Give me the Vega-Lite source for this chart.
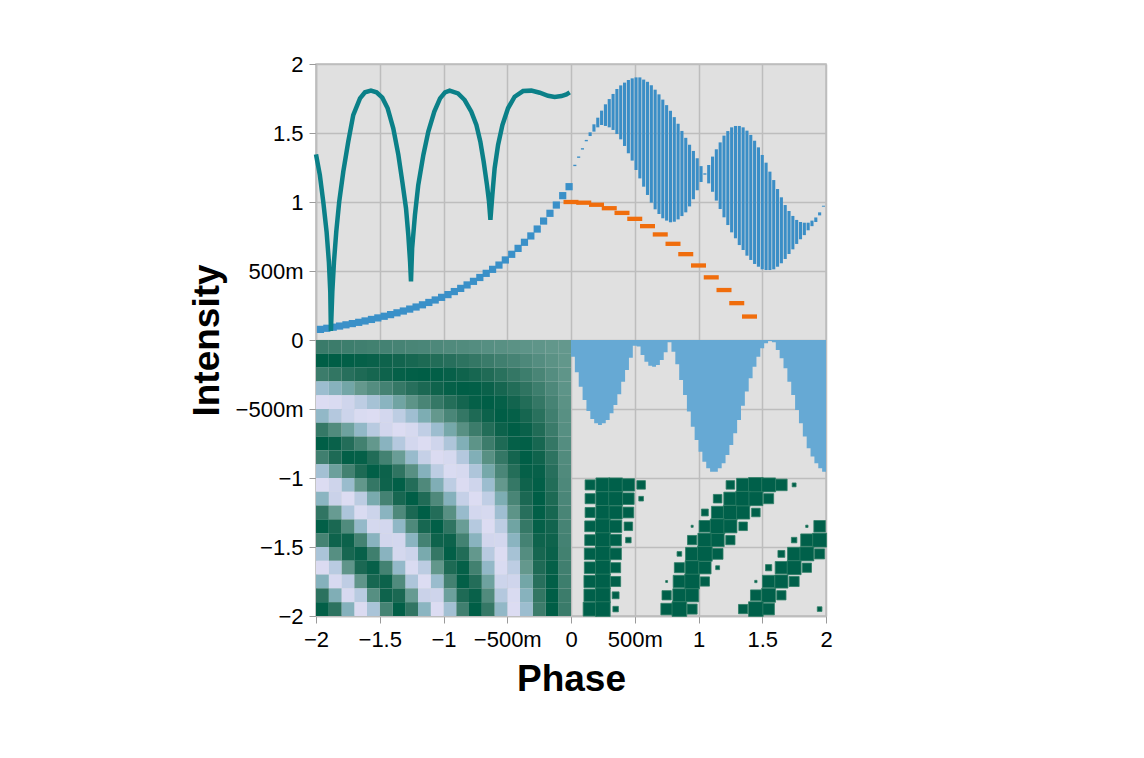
{
  "$schema": "https://vega.github.io/schema/vega-lite/v6.json",
  "width": 510,
  "height": 552,
  "autosize": {"type": "none"},
  "padding": {"left": 316, "top": 64, "right": 318, "bottom": 142},
  "background": "white",
  "datasets": {
    "heat": [
      {"x":-0.05,"y":-0.05,"v":0.01},{"x":-0.05,"y":-0.15,"v":0.04},{"x":-0.05,"y":-0.25,"v":0.07},{"x":-0.05,"y":-0.35,"v":0.09},{"x":-0.05,"y":-0.45,"v":0.12},{"x":-0.05,"y":-0.55,"v":0.15},{"x":-0.05,"y":-0.65,"v":0.17},{"x":-0.05,"y":-0.75,"v":0.2},{"x":-0.05,"y":-0.85,"v":0.23},{"x":-0.05,"y":-0.95,"v":0.25},{"x":-0.05,"y":-1.05,"v":0.28},{"x":-0.05,"y":-1.15,"v":0.31},{"x":-0.05,"y":-1.25,"v":0.33},{"x":-0.05,"y":-1.35,"v":0.36},{"x":-0.05,"y":-1.45,"v":0.38},{"x":-0.05,"y":-1.55,"v":0.41},{"x":-0.05,"y":-1.65,"v":0.43},{"x":-0.05,"y":-1.75,"v":0.46},{"x":-0.05,"y":-1.85,"v":0.48},{"x":-0.05,"y":-1.95,"v":0.5},
      {"x":-0.15,"y":-0.05,"v":0.04},{"x":-0.15,"y":-0.15,"v":0.12},{"x":-0.15,"y":-0.25,"v":0.2},{"x":-0.15,"y":-0.35,"v":0.28},{"x":-0.15,"y":-0.45,"v":0.36},{"x":-0.15,"y":-0.55,"v":0.43},{"x":-0.15,"y":-0.65,"v":0.5},{"x":-0.15,"y":-0.75,"v":0.57},{"x":-0.15,"y":-0.85,"v":0.64},{"x":-0.15,"y":-0.95,"v":0.7},{"x":-0.15,"y":-1.05,"v":0.75},{"x":-0.15,"y":-1.15,"v":0.8},{"x":-0.15,"y":-1.25,"v":0.85},{"x":-0.15,"y":-1.35,"v":0.89},{"x":-0.15,"y":-1.45,"v":0.92},{"x":-0.15,"y":-1.55,"v":0.95},{"x":-0.15,"y":-1.65,"v":0.97},{"x":-0.15,"y":-1.75,"v":0.99},{"x":-0.15,"y":-1.85,"v":1},{"x":-0.15,"y":-1.95,"v":1},
      {"x":-0.25,"y":-0.05,"v":0.07},{"x":-0.25,"y":-0.15,"v":0.2},{"x":-0.25,"y":-0.25,"v":0.33},{"x":-0.25,"y":-0.35,"v":0.46},{"x":-0.25,"y":-0.45,"v":0.57},{"x":-0.25,"y":-0.55,"v":0.68},{"x":-0.25,"y":-0.65,"v":0.77},{"x":-0.25,"y":-0.75,"v":0.85},{"x":-0.25,"y":-0.85,"v":0.91},{"x":-0.25,"y":-0.95,"v":0.96},{"x":-0.25,"y":-1.05,"v":0.99},{"x":-0.25,"y":-1.15,"v":1},{"x":-0.25,"y":-1.25,"v":0.99},{"x":-0.25,"y":-1.35,"v":0.97},{"x":-0.25,"y":-1.45,"v":0.92},{"x":-0.25,"y":-1.55,"v":0.86},{"x":-0.25,"y":-1.65,"v":0.79},{"x":-0.25,"y":-1.75,"v":0.7},{"x":-0.25,"y":-1.85,"v":0.59},{"x":-0.25,"y":-1.95,"v":0.48},
      {"x":-0.35,"y":-0.05,"v":0.09},{"x":-0.35,"y":-0.15,"v":0.28},{"x":-0.35,"y":-0.25,"v":0.46},{"x":-0.35,"y":-0.35,"v":0.62},{"x":-0.35,"y":-0.45,"v":0.75},{"x":-0.35,"y":-0.55,"v":0.86},{"x":-0.35,"y":-0.65,"v":0.94},{"x":-0.35,"y":-0.75,"v":0.99},{"x":-0.35,"y":-0.85,"v":1},{"x":-0.35,"y":-0.95,"v":0.97},{"x":-0.35,"y":-1.05,"v":0.91},{"x":-0.35,"y":-1.15,"v":0.82},{"x":-0.35,"y":-1.25,"v":0.7},{"x":-0.35,"y":-1.35,"v":0.55},{"x":-0.35,"y":-1.45,"v":0.38},{"x":-0.35,"y":-1.55,"v":0.2},{"x":-0.35,"y":-1.65,"v":0.01},{"x":-0.35,"y":-1.75,"v":-0.18},{"x":-0.35,"y":-1.85,"v":-0.36},{"x":-0.35,"y":-1.95,"v":-0.53},
      {"x":-0.45,"y":-0.05,"v":0.12},{"x":-0.45,"y":-0.15,"v":0.36},{"x":-0.45,"y":-0.25,"v":0.57},{"x":-0.45,"y":-0.35,"v":0.75},{"x":-0.45,"y":-0.45,"v":0.89},{"x":-0.45,"y":-0.55,"v":0.97},{"x":-0.45,"y":-0.65,"v":1},{"x":-0.45,"y":-0.75,"v":0.97},{"x":-0.45,"y":-0.85,"v":0.88},{"x":-0.45,"y":-0.95,"v":0.73},{"x":-0.45,"y":-1.05,"v":0.55},{"x":-0.45,"y":-1.15,"v":0.33},{"x":-0.45,"y":-1.25,"v":0.09},{"x":-0.45,"y":-1.35,"v":-0.15},{"x":-0.45,"y":-1.45,"v":-0.39},{"x":-0.45,"y":-1.55,"v":-0.6},{"x":-0.45,"y":-1.65,"v":-0.77},{"x":-0.45,"y":-1.75,"v":-0.9},{"x":-0.45,"y":-1.85,"v":-0.98},{"x":-0.45,"y":-1.95,"v":-1},
      {"x":-0.55,"y":-0.05,"v":0.15},{"x":-0.55,"y":-0.15,"v":0.43},{"x":-0.55,"y":-0.25,"v":0.68},{"x":-0.55,"y":-0.35,"v":0.86},{"x":-0.55,"y":-0.45,"v":0.97},{"x":-0.55,"y":-0.55,"v":1},{"x":-0.55,"y":-0.65,"v":0.93},{"x":-0.55,"y":-0.75,"v":0.79},{"x":-0.55,"y":-0.85,"v":0.57},{"x":-0.55,"y":-0.95,"v":0.31},{"x":-0.55,"y":-1.05,"v":0.01},{"x":-0.55,"y":-1.15,"v":-0.28},{"x":-0.55,"y":-1.25,"v":-0.55},{"x":-0.55,"y":-1.35,"v":-0.77},{"x":-0.55,"y":-1.45,"v":-0.93},{"x":-0.55,"y":-1.55,"v":-1},{"x":-0.55,"y":-1.65,"v":-0.98},{"x":-0.55,"y":-1.75,"v":-0.88},{"x":-0.55,"y":-1.85,"v":-0.7},{"x":-0.55,"y":-1.95,"v":-0.45},
      {"x":-0.65,"y":-0.05,"v":0.17},{"x":-0.65,"y":-0.15,"v":0.5},{"x":-0.65,"y":-0.25,"v":0.77},{"x":-0.65,"y":-0.35,"v":0.94},{"x":-0.65,"y":-0.45,"v":1},{"x":-0.65,"y":-0.55,"v":0.93},{"x":-0.65,"y":-0.65,"v":0.75},{"x":-0.65,"y":-0.75,"v":0.48},{"x":-0.65,"y":-0.85,"v":0.15},{"x":-0.65,"y":-0.95,"v":-0.21},{"x":-0.65,"y":-1.05,"v":-0.53},{"x":-0.65,"y":-1.15,"v":-0.79},{"x":-0.65,"y":-1.25,"v":-0.95},{"x":-0.65,"y":-1.35,"v":-1},{"x":-0.65,"y":-1.45,"v":-0.92},{"x":-0.65,"y":-1.55,"v":-0.73},{"x":-0.65,"y":-1.65,"v":-0.45},{"x":-0.65,"y":-1.75,"v":-0.12},{"x":-0.65,"y":-1.85,"v":0.23},{"x":-0.65,"y":-1.95,"v":0.55},
      {"x":-0.75,"y":-0.05,"v":0.2},{"x":-0.75,"y":-0.15,"v":0.57},{"x":-0.75,"y":-0.25,"v":0.85},{"x":-0.75,"y":-0.35,"v":0.99},{"x":-0.75,"y":-0.45,"v":0.97},{"x":-0.75,"y":-0.55,"v":0.79},{"x":-0.75,"y":-0.65,"v":0.48},{"x":-0.75,"y":-0.75,"v":0.09},{"x":-0.75,"y":-0.85,"v":-0.31},{"x":-0.75,"y":-0.95,"v":-0.66},{"x":-0.75,"y":-1.05,"v":-0.9},{"x":-0.75,"y":-1.15,"v":-1},{"x":-0.75,"y":-1.25,"v":-0.93},{"x":-0.75,"y":-1.35,"v":-0.71},{"x":-0.75,"y":-1.45,"v":-0.38},{"x":-0.75,"y":-1.55,"v":0.02},{"x":-0.75,"y":-1.65,"v":0.41},{"x":-0.75,"y":-1.75,"v":0.74},{"x":-0.75,"y":-1.85,"v":0.95},{"x":-0.75,"y":-1.95,"v":1},
      {"x":-0.85,"y":-0.05,"v":0.23},{"x":-0.85,"y":-0.15,"v":0.64},{"x":-0.85,"y":-0.25,"v":0.91},{"x":-0.85,"y":-0.35,"v":1},{"x":-0.85,"y":-0.45,"v":0.88},{"x":-0.85,"y":-0.55,"v":0.57},{"x":-0.85,"y":-0.65,"v":0.15},{"x":-0.85,"y":-0.75,"v":-0.31},{"x":-0.85,"y":-0.85,"v":-0.7},{"x":-0.85,"y":-0.95,"v":-0.95},{"x":-0.85,"y":-1.05,"v":-0.99},{"x":-0.85,"y":-1.15,"v":-0.83},{"x":-0.85,"y":-1.25,"v":-0.5},{"x":-0.85,"y":-1.35,"v":-0.06},{"x":-0.85,"y":-1.45,"v":0.39},{"x":-0.85,"y":-1.55,"v":0.76},{"x":-0.85,"y":-1.65,"v":0.97},{"x":-0.85,"y":-1.75,"v":0.98},{"x":-0.85,"y":-1.85,"v":0.79},{"x":-0.85,"y":-1.95,"v":0.43},
      {"x":-0.95,"y":-0.05,"v":0.25},{"x":-0.95,"y":-0.15,"v":0.7},{"x":-0.95,"y":-0.25,"v":0.96},{"x":-0.95,"y":-0.35,"v":0.97},{"x":-0.95,"y":-0.45,"v":0.73},{"x":-0.95,"y":-0.55,"v":0.31},{"x":-0.95,"y":-0.65,"v":-0.21},{"x":-0.95,"y":-0.75,"v":-0.66},{"x":-0.95,"y":-0.85,"v":-0.95},{"x":-0.95,"y":-0.95,"v":-0.98},{"x":-0.95,"y":-1.05,"v":-0.77},{"x":-0.95,"y":-1.15,"v":-0.35},{"x":-0.95,"y":-1.25,"v":0.15},{"x":-0.95,"y":-1.35,"v":0.62},{"x":-0.95,"y":-1.45,"v":0.93},{"x":-0.95,"y":-1.55,"v":0.99},{"x":-0.95,"y":-1.65,"v":0.8},{"x":-0.95,"y":-1.75,"v":0.4},{"x":-0.95,"y":-1.85,"v":-0.1},{"x":-0.95,"y":-1.95,"v":-0.58},
      {"x":-1.05,"y":-0.05,"v":0.28},{"x":-1.05,"y":-0.15,"v":0.75},{"x":-1.05,"y":-0.25,"v":0.99},{"x":-1.05,"y":-0.35,"v":0.91},{"x":-1.05,"y":-0.45,"v":0.55},{"x":-1.05,"y":-0.55,"v":0.01},{"x":-1.05,"y":-0.65,"v":-0.53},{"x":-1.05,"y":-0.75,"v":-0.9},{"x":-1.05,"y":-0.85,"v":-0.99},{"x":-1.05,"y":-0.95,"v":-0.77},{"x":-1.05,"y":-1.05,"v":-0.3},{"x":-1.05,"y":-1.15,"v":0.26},{"x":-1.05,"y":-1.25,"v":0.74},{"x":-1.05,"y":-1.35,"v":0.99},{"x":-1.05,"y":-1.45,"v":0.92},{"x":-1.05,"y":-1.55,"v":0.57},{"x":-1.05,"y":-1.65,"v":0.04},{"x":-1.05,"y":-1.75,"v":-0.51},{"x":-1.05,"y":-1.85,"v":-0.89},{"x":-1.05,"y":-1.95,"v":-1},
      {"x":-1.15,"y":-0.05,"v":0.31},{"x":-1.15,"y":-0.15,"v":0.8},{"x":-1.15,"y":-0.25,"v":1},{"x":-1.15,"y":-0.35,"v":0.82},{"x":-1.15,"y":-0.45,"v":0.33},{"x":-1.15,"y":-0.55,"v":-0.28},{"x":-1.15,"y":-0.65,"v":-0.79},{"x":-1.15,"y":-0.75,"v":-1},{"x":-1.15,"y":-0.85,"v":-0.83},{"x":-1.15,"y":-0.95,"v":-0.35},{"x":-1.15,"y":-1.05,"v":0.26},{"x":-1.15,"y":-1.15,"v":0.77},{"x":-1.15,"y":-1.25,"v":1},{"x":-1.15,"y":-1.35,"v":0.85},{"x":-1.15,"y":-1.45,"v":0.38},{"x":-1.15,"y":-1.55,"v":-0.24},{"x":-1.15,"y":-1.65,"v":-0.76},{"x":-1.15,"y":-1.75,"v":-1},{"x":-1.15,"y":-1.85,"v":-0.86},{"x":-1.15,"y":-1.95,"v":-0.4},
      {"x":-1.25,"y":-0.05,"v":0.33},{"x":-1.25,"y":-0.15,"v":0.85},{"x":-1.25,"y":-0.25,"v":0.99},{"x":-1.25,"y":-0.35,"v":0.7},{"x":-1.25,"y":-0.45,"v":0.09},{"x":-1.25,"y":-0.55,"v":-0.55},{"x":-1.25,"y":-0.65,"v":-0.95},{"x":-1.25,"y":-0.75,"v":-0.93},{"x":-1.25,"y":-0.85,"v":-0.5},{"x":-1.25,"y":-0.95,"v":0.15},{"x":-1.25,"y":-1.05,"v":0.74},{"x":-1.25,"y":-1.15,"v":1},{"x":-1.25,"y":-1.25,"v":0.82},{"x":-1.25,"y":-1.35,"v":0.27},{"x":-1.25,"y":-1.45,"v":-0.39},{"x":-1.25,"y":-1.55,"v":-0.88},{"x":-1.25,"y":-1.65,"v":-0.98},{"x":-1.25,"y":-1.75,"v":-0.65},{"x":-1.25,"y":-1.85,"v":-0.03},{"x":-1.25,"y":-1.95,"v":0.6},
      {"x":-1.35,"y":-0.05,"v":0.36},{"x":-1.35,"y":-0.15,"v":0.89},{"x":-1.35,"y":-0.25,"v":0.97},{"x":-1.35,"y":-0.35,"v":0.55},{"x":-1.35,"y":-0.45,"v":-0.15},{"x":-1.35,"y":-0.55,"v":-0.77},{"x":-1.35,"y":-0.65,"v":-1},{"x":-1.35,"y":-0.75,"v":-0.71},{"x":-1.35,"y":-0.85,"v":-0.06},{"x":-1.35,"y":-0.95,"v":0.62},{"x":-1.35,"y":-1.05,"v":0.99},{"x":-1.35,"y":-1.15,"v":0.85},{"x":-1.35,"y":-1.25,"v":0.27},{"x":-1.35,"y":-1.35,"v":-0.44},{"x":-1.35,"y":-1.45,"v":-0.93},{"x":-1.35,"y":-1.55,"v":-0.94},{"x":-1.35,"y":-1.65,"v":-0.47},{"x":-1.35,"y":-1.75,"v":0.24},{"x":-1.35,"y":-1.85,"v":0.83},{"x":-1.35,"y":-1.95,"v":0.99},
      {"x":-1.45,"y":-0.05,"v":0.38},{"x":-1.45,"y":-0.15,"v":0.92},{"x":-1.45,"y":-0.25,"v":0.92},{"x":-1.45,"y":-0.35,"v":0.38},{"x":-1.45,"y":-0.45,"v":-0.39},{"x":-1.45,"y":-0.55,"v":-0.93},{"x":-1.45,"y":-0.65,"v":-0.92},{"x":-1.45,"y":-0.75,"v":-0.38},{"x":-1.45,"y":-0.85,"v":0.39},{"x":-1.45,"y":-0.95,"v":0.93},{"x":-1.45,"y":-1.05,"v":0.92},{"x":-1.45,"y":-1.15,"v":0.38},{"x":-1.45,"y":-1.25,"v":-0.39},{"x":-1.45,"y":-1.35,"v":-0.93},{"x":-1.45,"y":-1.45,"v":-0.92},{"x":-1.45,"y":-1.55,"v":-0.38},{"x":-1.45,"y":-1.65,"v":0.39},{"x":-1.45,"y":-1.75,"v":0.93},{"x":-1.45,"y":-1.85,"v":0.92},{"x":-1.45,"y":-1.95,"v":0.37},
      {"x":-1.55,"y":-0.05,"v":0.41},{"x":-1.55,"y":-0.15,"v":0.95},{"x":-1.55,"y":-0.25,"v":0.86},{"x":-1.55,"y":-0.35,"v":0.2},{"x":-1.55,"y":-0.45,"v":-0.6},{"x":-1.55,"y":-0.55,"v":-1},{"x":-1.55,"y":-0.65,"v":-0.73},{"x":-1.55,"y":-0.75,"v":0.02},{"x":-1.55,"y":-0.85,"v":0.76},{"x":-1.55,"y":-0.95,"v":0.99},{"x":-1.55,"y":-1.05,"v":0.57},{"x":-1.55,"y":-1.15,"v":-0.24},{"x":-1.55,"y":-1.25,"v":-0.88},{"x":-1.55,"y":-1.35,"v":-0.94},{"x":-1.55,"y":-1.45,"v":-0.38},{"x":-1.55,"y":-1.55,"v":0.44},{"x":-1.55,"y":-1.65,"v":0.96},{"x":-1.55,"y":-1.75,"v":0.85},{"x":-1.55,"y":-1.85,"v":0.17},{"x":-1.55,"y":-1.95,"v":-0.63},
      {"x":-1.65,"y":-0.05,"v":0.43},{"x":-1.65,"y":-0.15,"v":0.97},{"x":-1.65,"y":-0.25,"v":0.79},{"x":-1.65,"y":-0.35,"v":0.01},{"x":-1.65,"y":-0.45,"v":-0.77},{"x":-1.65,"y":-0.55,"v":-0.98},{"x":-1.65,"y":-0.65,"v":-0.45},{"x":-1.65,"y":-0.75,"v":0.41},{"x":-1.65,"y":-0.85,"v":0.97},{"x":-1.65,"y":-0.95,"v":0.8},{"x":-1.65,"y":-1.05,"v":0.04},{"x":-1.65,"y":-1.15,"v":-0.76},{"x":-1.65,"y":-1.25,"v":-0.98},{"x":-1.65,"y":-1.35,"v":-0.47},{"x":-1.65,"y":-1.45,"v":0.39},{"x":-1.65,"y":-1.55,"v":0.96},{"x":-1.65,"y":-1.65,"v":0.82},{"x":-1.65,"y":-1.75,"v":0.06},{"x":-1.65,"y":-1.85,"v":-0.74},{"x":-1.65,"y":-1.95,"v":-0.99},
      {"x":-1.75,"y":-0.05,"v":0.46},{"x":-1.75,"y":-0.15,"v":0.99},{"x":-1.75,"y":-0.25,"v":0.7},{"x":-1.75,"y":-0.35,"v":-0.18},{"x":-1.75,"y":-0.45,"v":-0.9},{"x":-1.75,"y":-0.55,"v":-0.88},{"x":-1.75,"y":-0.65,"v":-0.12},{"x":-1.75,"y":-0.75,"v":0.74},{"x":-1.75,"y":-0.85,"v":0.98},{"x":-1.75,"y":-0.95,"v":0.4},{"x":-1.75,"y":-1.05,"v":-0.51},{"x":-1.75,"y":-1.15,"v":-1},{"x":-1.75,"y":-1.25,"v":-0.65},{"x":-1.75,"y":-1.35,"v":0.24},{"x":-1.75,"y":-1.45,"v":0.93},{"x":-1.75,"y":-1.55,"v":0.85},{"x":-1.75,"y":-1.65,"v":0.06},{"x":-1.75,"y":-1.75,"v":-0.78},{"x":-1.75,"y":-1.85,"v":-0.96},{"x":-1.75,"y":-1.95,"v":-0.35},
      {"x":-1.85,"y":-0.05,"v":0.48},{"x":-1.85,"y":-0.15,"v":1},{"x":-1.85,"y":-0.25,"v":0.59},{"x":-1.85,"y":-0.35,"v":-0.36},{"x":-1.85,"y":-0.45,"v":-0.98},{"x":-1.85,"y":-0.55,"v":-0.7},{"x":-1.85,"y":-0.65,"v":0.23},{"x":-1.85,"y":-0.75,"v":0.95},{"x":-1.85,"y":-0.85,"v":0.79},{"x":-1.85,"y":-0.95,"v":-0.1},{"x":-1.85,"y":-1.05,"v":-0.89},{"x":-1.85,"y":-1.15,"v":-0.86},{"x":-1.85,"y":-1.25,"v":-0.03},{"x":-1.85,"y":-1.35,"v":0.83},{"x":-1.85,"y":-1.45,"v":0.92},{"x":-1.85,"y":-1.55,"v":0.17},{"x":-1.85,"y":-1.65,"v":-0.74},{"x":-1.85,"y":-1.75,"v":-0.96},{"x":-1.85,"y":-1.85,"v":-0.3},{"x":-1.85,"y":-1.95,"v":0.65},
      {"x":-1.95,"y":-0.05,"v":0.5},{"x":-1.95,"y":-0.15,"v":1},{"x":-1.95,"y":-0.25,"v":0.48},{"x":-1.95,"y":-0.35,"v":-0.53},{"x":-1.95,"y":-0.45,"v":-1},{"x":-1.95,"y":-0.55,"v":-0.45},{"x":-1.95,"y":-0.65,"v":0.55},{"x":-1.95,"y":-0.75,"v":1},{"x":-1.95,"y":-0.85,"v":0.43},{"x":-1.95,"y":-0.95,"v":-0.58},{"x":-1.95,"y":-1.05,"v":-1},{"x":-1.95,"y":-1.15,"v":-0.4},{"x":-1.95,"y":-1.25,"v":0.6},{"x":-1.95,"y":-1.35,"v":0.99},{"x":-1.95,"y":-1.45,"v":0.37},{"x":-1.95,"y":-1.55,"v":-0.63},{"x":-1.95,"y":-1.65,"v":-0.99},{"x":-1.95,"y":-1.75,"v":-0.35},{"x":-1.95,"y":-1.85,"v":0.65},{"x":-1.95,"y":-1.95,"v":0.98}
    ],
    "area": [
      {"x":0,"y":-0.121},{"x":0.0303,"y":-0.234},{"x":0.0606,"y":-0.338},{"x":0.0909,"y":-0.435},{"x":0.1212,"y":-0.514},{"x":0.1515,"y":-0.572},{"x":0.1818,"y":-0.604},{"x":0.2121,"y":-0.616},{"x":0.2424,"y":-0.604},{"x":0.2727,"y":-0.58},{"x":0.303,"y":-0.531},{"x":0.3333,"y":-0.471},{"x":0.3636,"y":-0.394},{"x":0.3939,"y":-0.302},{"x":0.4242,"y":-0.217},{"x":0.4545,"y":-0.128},{"x":0.4848,"y":-0.041},{"x":0.5152,"y":-0.048},{"x":0.5455,"y":-0.109},{"x":0.5758,"y":-0.157},{"x":0.6061,"y":-0.186},{"x":0.6364,"y":-0.193},{"x":0.6667,"y":-0.181},{"x":0.697,"y":-0.145},{"x":0.7273,"y":-0.089},{"x":0.7576,"y":-0.017},{"x":0.7879,"y":-0.085},{"x":0.8182,"y":-0.176},{"x":0.8485,"y":-0.29},{"x":0.8788,"y":-0.399},{"x":0.9091,"y":-0.519},{"x":0.9394,"y":-0.628},{"x":0.9697,"y":-0.725},{"x":1.0,"y":-0.809},{"x":1.0303,"y":-0.882},{"x":1.0606,"y":-0.93},{"x":1.0909,"y":-0.954},{"x":1.1212,"y":-0.954},{"x":1.1515,"y":-0.93},{"x":1.1818,"y":-0.894},{"x":1.2121,"y":-0.833},{"x":1.2424,"y":-0.761},{"x":1.2727,"y":-0.676},{"x":1.303,"y":-0.58},{"x":1.3333,"y":-0.476},{"x":1.3636,"y":-0.374},{"x":1.3939,"y":-0.278},{"x":1.4242,"y":-0.193},{"x":1.4545,"y":-0.121},{"x":1.4848,"y":-0.06},{"x":1.5152,"y":-0.024},{"x":1.5455,"y":-0.007},{"x":1.5758,"y":-0.017},{"x":1.6061,"y":-0.072},{"x":1.6364,"y":-0.133},{"x":1.6667,"y":-0.205},{"x":1.697,"y":-0.302},{"x":1.7273,"y":-0.399},{"x":1.7576,"y":-0.507},{"x":1.7879,"y":-0.604},{"x":1.8182,"y":-0.7},{"x":1.8485,"y":-0.785},{"x":1.8788,"y":-0.845},{"x":1.9091,"y":-0.894},{"x":1.9394,"y":-0.93},{"x":1.9697,"y":-0.954},{"x":2.0,"y":-0.954}
    ],
    "bars": [
      {"x":0.03,"y":1.27,"y2":1.26},{"x":0.06,"y":1.33,"y2":1.32},{"x":0.09,"y":1.39,"y2":1.38},{"x":0.12,"y":1.45,"y2":1.44},{"x":0.15,"y":1.505,"y2":1.478},{"x":0.18,"y":1.563,"y2":1.51},{"x":0.21,"y":1.611,"y2":1.541},{"x":0.24,"y":1.662,"y2":1.558},{"x":0.27,"y":1.708,"y2":1.551},{"x":0.3,"y":1.746,"y2":1.541},{"x":0.33,"y":1.783,"y2":1.522},{"x":0.36,"y":1.819,"y2":1.493},{"x":0.39,"y":1.845,"y2":1.454},{"x":0.42,"y":1.865,"y2":1.406},{"x":0.45,"y":1.884,"y2":1.353},{"x":0.48,"y":1.896,"y2":1.3},{"x":0.51,"y":1.903,"y2":1.232},{"x":0.54,"y":1.903,"y2":1.171},{"x":0.57,"y":1.887,"y2":1.111},{"x":0.6,"y":1.871,"y2":1.051},{"x":0.63,"y":1.846,"y2":0.995},{"x":0.66,"y":1.814,"y2":0.947},{"x":0.69,"y":1.78,"y2":0.913},{"x":0.72,"y":1.742,"y2":0.882},{"x":0.75,"y":1.702,"y2":0.865},{"x":0.78,"y":1.661,"y2":0.853},{"x":0.81,"y":1.615,"y2":0.857},{"x":0.84,"y":1.567,"y2":0.874},{"x":0.87,"y":1.515,"y2":0.898},{"x":0.9,"y":1.465,"y2":0.925},{"x":0.93,"y":1.415,"y2":0.968},{"x":0.96,"y":1.37,"y2":1.02},{"x":0.99,"y":1.317,"y2":1.085},{"x":1.02,"y":1.26,"y2":1.145},{"x":1.05,"y":1.208,"y2":1.198},{"x":1.08,"y":1.268,"y2":1.135},{"x":1.11,"y":1.329,"y2":1.074},{"x":1.14,"y":1.382,"y2":1.01},{"x":1.17,"y":1.432,"y2":0.949},{"x":1.2,"y":1.481,"y2":0.889},{"x":1.23,"y":1.514,"y2":0.833},{"x":1.26,"y":1.541,"y2":0.78},{"x":1.29,"y":1.551,"y2":0.737},{"x":1.32,"y":1.551,"y2":0.688},{"x":1.35,"y":1.541,"y2":0.652},{"x":1.38,"y":1.517,"y2":0.611},{"x":1.41,"y":1.486,"y2":0.58},{"x":1.44,"y":1.444,"y2":0.551},{"x":1.47,"y":1.396,"y2":0.531},{"x":1.5,"y":1.341,"y2":0.512},{"x":1.53,"y":1.285,"y2":0.507},{"x":1.56,"y":1.22,"y2":0.507},{"x":1.59,"y":1.159,"y2":0.512},{"x":1.62,"y":1.094,"y2":0.531},{"x":1.65,"y":1.034,"y2":0.556},{"x":1.68,"y":0.978,"y2":0.587},{"x":1.71,"y":0.935,"y2":0.623},{"x":1.74,"y":0.899,"y2":0.657},{"x":1.77,"y":0.87,"y2":0.696},{"x":1.8,"y":0.855,"y2":0.73},{"x":1.83,"y":0.85,"y2":0.76},{"x":1.86,"y":0.85,"y2":0.795},{"x":1.89,"y":0.865,"y2":0.825},{"x":1.92,"y":0.888,"y2":0.855},{"x":1.95,"y":0.925,"y2":0.903},{"x":1.98,"y":0.973,"y2":0.966}
    ],
    "ticks": [
      {"x":0,"y":1.0},{"x":0.1,"y":0.995},{"x":0.2,"y":0.98},{"x":0.3,"y":0.955},{"x":0.4,"y":0.921},{"x":0.5,"y":0.878},{"x":0.6,"y":0.825},{"x":0.7,"y":0.765},{"x":0.8,"y":0.697},{"x":0.9,"y":0.622},{"x":1.0,"y":0.54},{"x":1.1,"y":0.454},{"x":1.2,"y":0.362},{"x":1.3,"y":0.267},{"x":1.4,"y":0.17}
    ],
    "dots": [
      {"x":-0.015,"y":1.111},{"x":-0.065,"y":1.046},{"x":-0.115,"y":0.978},{"x":-0.165,"y":0.918},{"x":-0.215,"y":0.862},{"x":-0.265,"y":0.804},{"x":-0.315,"y":0.754},{"x":-0.365,"y":0.708},{"x":-0.415,"y":0.664},{"x":-0.465,"y":0.621},{"x":-0.515,"y":0.58},{"x":-0.565,"y":0.543},{"x":-0.615,"y":0.512},{"x":-0.665,"y":0.483},{"x":-0.715,"y":0.453},{"x":-0.765,"y":0.425},{"x":-0.815,"y":0.399},{"x":-0.865,"y":0.374},{"x":-0.915,"y":0.351},{"x":-0.965,"y":0.329},{"x":-1.015,"y":0.309},{"x":-1.065,"y":0.29},{"x":-1.115,"y":0.272},{"x":-1.165,"y":0.255},{"x":-1.215,"y":0.239},{"x":-1.265,"y":0.224},{"x":-1.315,"y":0.21},{"x":-1.365,"y":0.197},{"x":-1.415,"y":0.184},{"x":-1.465,"y":0.172},{"x":-1.515,"y":0.16},{"x":-1.565,"y":0.149},{"x":-1.615,"y":0.138},{"x":-1.665,"y":0.128},{"x":-1.715,"y":0.119},{"x":-1.765,"y":0.11},{"x":-1.815,"y":0.101},{"x":-1.865,"y":0.093},{"x":-1.915,"y":0.085},{"x":-1.965,"y":0.077}
    ],
    "curve": [
      {"x":-2.0,"y":1.345},{"x":-1.97,"y":1.196},{"x":-1.943,"y":1.002},{"x":-1.917,"y":0.785},{"x":-1.899,"y":0.567},{"x":-1.888,"y":0.35},{"x":-1.883,"y":0.065},{"x":-1.872,"y":0.35},{"x":-1.859,"y":0.567},{"x":-1.841,"y":0.785},{"x":-1.818,"y":1.002},{"x":-1.786,"y":1.22},{"x":-1.747,"y":1.437},{"x":-1.708,"y":1.63},{"x":-1.655,"y":1.751},{"x":-1.616,"y":1.795},{"x":-1.569,"y":1.807},{"x":-1.525,"y":1.795},{"x":-1.48,"y":1.756},{"x":-1.438,"y":1.679},{"x":-1.394,"y":1.534},{"x":-1.354,"y":1.341},{"x":-1.323,"y":1.147},{"x":-1.294,"y":0.954},{"x":-1.276,"y":0.761},{"x":-1.262,"y":0.567},{"x":-1.255,"y":0.425},{"x":-1.246,"y":0.664},{"x":-1.224,"y":0.906},{"x":-1.198,"y":1.123},{"x":-1.158,"y":1.341},{"x":-1.119,"y":1.51},{"x":-1.072,"y":1.655},{"x":-1.027,"y":1.751},{"x":-0.988,"y":1.795},{"x":-0.952,"y":1.807},{"x":-0.886,"y":1.787},{"x":-0.834,"y":1.739},{"x":-0.782,"y":1.655},{"x":-0.742,"y":1.558},{"x":-0.711,"y":1.437},{"x":-0.685,"y":1.292},{"x":-0.659,"y":1.123},{"x":-0.643,"y":1.002},{"x":-0.632,"y":0.87},{"x":-0.617,"y":1.051},{"x":-0.599,"y":1.244},{"x":-0.572,"y":1.413},{"x":-0.538,"y":1.558},{"x":-0.494,"y":1.679},{"x":-0.442,"y":1.763},{"x":-0.376,"y":1.804},{"x":-0.311,"y":1.807},{"x":-0.245,"y":1.792},{"x":-0.18,"y":1.77},{"x":-0.128,"y":1.761},{"x":-0.075,"y":1.768},{"x":-0.036,"y":1.78},{"x":-0.01,"y":1.795}
    ],
    "sq": [
      {"x":0.15,"y":-1.05,"v":0.47},{"x":0.25,"y":-1.05,"v":0.9},{"x":0.35,"y":-1.05,"v":0.9},{"x":0.45,"y":-1.05,"v":0.71},{"x":0.55,"y":-1.05,"v":0.34},{"x":1.25,"y":-1.05,"v":0.34},{"x":1.35,"y":-1.05,"v":0.8},{"x":1.45,"y":-1.05,"v":1},{"x":1.55,"y":-1.05,"v":0.9},{"x":1.65,"y":-1.05,"v":0.62},{"x":1.75,"y":-1.05,"v":0.07},
      {"x":0.15,"y":-1.15,"v":0.47},{"x":0.25,"y":-1.15,"v":0.9},{"x":0.35,"y":-1.15,"v":0.9},{"x":0.45,"y":-1.15,"v":0.62},{"x":0.55,"y":-1.15,"v":0.1},{"x":1.15,"y":-1.15,"v":0.34},{"x":1.25,"y":-1.15,"v":0.8},{"x":1.35,"y":-1.15,"v":1},{"x":1.45,"y":-1.15,"v":0.9},{"x":1.55,"y":-1.15,"v":0.47},
      {"x":0.15,"y":-1.25,"v":0.47},{"x":0.25,"y":-1.25,"v":0.9},{"x":0.35,"y":-1.25,"v":0.8},{"x":0.45,"y":-1.25,"v":0.54},{"x":1.05,"y":-1.25,"v":0.22},{"x":1.15,"y":-1.25,"v":0.71},{"x":1.25,"y":-1.25,"v":0.9},{"x":1.35,"y":-1.25,"v":0.8},{"x":1.45,"y":-1.25,"v":0.34},
      {"x":0.15,"y":-1.35,"v":0.54},{"x":0.25,"y":-1.35,"v":1},{"x":0.35,"y":-1.35,"v":0.71},{"x":0.45,"y":-1.35,"v":0.34},{"x":0.95,"y":-1.35,"v":0.02},{"x":1.05,"y":-1.35,"v":0.62},{"x":1.15,"y":-1.35,"v":1},{"x":1.25,"y":-1.35,"v":0.8},{"x":1.35,"y":-1.35,"v":0.34},{"x":1.85,"y":-1.35,"v":0.025},{"x":1.95,"y":-1.35,"v":0.62},
      {"x":0.15,"y":-1.45,"v":0.54},{"x":0.25,"y":-1.45,"v":1},{"x":0.35,"y":-1.45,"v":0.62},{"x":0.45,"y":-1.45,"v":0.14},{"x":0.95,"y":-1.45,"v":0.4},{"x":1.05,"y":-1.45,"v":0.9},{"x":1.15,"y":-1.45,"v":0.8},{"x":1.25,"y":-1.45,"v":0.4},{"x":1.75,"y":-1.45,"v":0.14},{"x":1.85,"y":-1.45,"v":0.71},{"x":1.95,"y":-1.45,"v":0.9},
      {"x":0.15,"y":-1.55,"v":0.62},{"x":0.25,"y":-1.55,"v":1},{"x":0.35,"y":-1.55,"v":0.62},{"x":0.85,"y":-1.55,"v":0.1},{"x":0.95,"y":-1.55,"v":0.8},{"x":1.05,"y":-1.55,"v":1},{"x":1.15,"y":-1.55,"v":0.54},{"x":1.65,"y":-1.55,"v":0.22},{"x":1.75,"y":-1.55,"v":0.8},{"x":1.85,"y":-1.55,"v":0.9},{"x":1.95,"y":-1.55,"v":0.47},
      {"x":0.15,"y":-1.65,"v":0.62},{"x":0.25,"y":-1.65,"v":1},{"x":0.35,"y":-1.65,"v":0.47},{"x":0.85,"y":-1.65,"v":0.47},{"x":0.95,"y":-1.65,"v":0.9},{"x":1.05,"y":-1.65,"v":0.71},{"x":1.15,"y":-1.65,"v":0.07},{"x":1.55,"y":-1.65,"v":0.18},{"x":1.65,"y":-1.65,"v":0.71},{"x":1.75,"y":-1.65,"v":0.9},{"x":1.85,"y":-1.65,"v":0.4},
      {"x":0.15,"y":-1.75,"v":0.71},{"x":0.25,"y":-1.75,"v":1},{"x":0.35,"y":-1.75,"v":0.47},{"x":0.75,"y":-1.75,"v":0.017},{"x":0.85,"y":-1.75,"v":0.71},{"x":0.95,"y":-1.75,"v":1},{"x":1.05,"y":-1.75,"v":0.4},{"x":1.45,"y":-1.75,"v":0.025},{"x":1.55,"y":-1.75,"v":0.71},{"x":1.65,"y":-1.75,"v":0.8},{"x":1.75,"y":-1.75,"v":0.47},
      {"x":0.15,"y":-1.85,"v":0.71},{"x":0.25,"y":-1.85,"v":1},{"x":0.35,"y":-1.85,"v":0.22},{"x":0.75,"y":-1.85,"v":0.4},{"x":0.85,"y":-1.85,"v":0.8},{"x":0.95,"y":-1.85,"v":0.8},{"x":1.45,"y":-1.85,"v":0.54},{"x":1.55,"y":-1.85,"v":0.9},{"x":1.65,"y":-1.85,"v":0.4},
      {"x":0.15,"y":-1.95,"v":0.9},{"x":0.25,"y":-1.95,"v":1},{"x":0.35,"y":-1.95,"v":0.14},{"x":0.75,"y":-1.95,"v":0.62},{"x":0.85,"y":-1.95,"v":1},{"x":0.95,"y":-1.95,"v":0.47},{"x":1.35,"y":-1.95,"v":0.4},{"x":1.45,"y":-1.95,"v":1},{"x":1.55,"y":-1.95,"v":0.62},{"x":1.95,"y":-1.95,"v":0.1}
    ]
  },
  "encoding": {
    "x": {
      "field": "x",
      "type": "quantitative",
      "scale": {"domain": [-2, 2], "nice": false, "zero": false, "padding": 0},
      "axis": {
        "title": "Phase",
        "values": [-2, -1.5, -1, -0.5, 0, 0.5, 1, 1.5, 2],
        "labelExpr": "format(datum.value, '~s')",
        "labelFlush": false,
        "labelOverlap": false,
        "titlePadding": 11
      }
    },
    "y": {
      "field": "y",
      "type": "quantitative",
      "scale": {"domain": [-2, 2], "nice": false, "zero": false, "padding": 0},
      "axis": {
        "title": "Intensity",
        "values": [-2, -1.5, -1, -0.5, 0, 0.5, 1, 1.5, 2],
        "labelExpr": "format(datum.value, '~s')",
        "labelOverlap": false,
        "titlePadding": 9
      }
    }
  },
  "layer": [
    {
      "data": {"name": "heat"},
      "mark": {"type": "rect", "width": 12.8, "height": 13.85},
      "encoding": {
        "color": {
          "field": "v",
          "type": "quantitative",
          "scale": {"domain": [-1, 0, 1], "range": ["#dcdcf2", "#65998e", "#005e46"]},
          "legend": null
        }
      }
    },
    {
      "data": {"name": "area"},
      "mark": {"type": "area", "interpolate": "step-after", "color": "#66a9d4", "opacity": 1},
      "encoding": {"y2": {"datum": 0}}
    },
    {
      "data": {"name": "bars"},
      "mark": {"type": "bar", "orient": "vertical", "width": 3.1, "color": "#3b8ec6", "opacity": 1},
      "encoding": {"y2": {"field": "y2"}}
    },
    {
      "data": {"name": "ticks"},
      "mark": {"type": "tick", "orient": "horizontal", "size": 15, "thickness": 4.3, "color": "#f06d0c", "opacity": 1}
    },
    {
      "data": {"name": "dots"},
      "mark": {"type": "square", "size": 52, "filled": true, "opacity": 1, "color": "#3a90c8"}
    },
    {
      "data": {"name": "curve"},
      "mark": {"type": "line", "strokeWidth": 4.5, "color": "#0b8088", "opacity": 1}
    },
    {
      "data": {"name": "sq"},
      "mark": {"type": "square", "filled": true, "opacity": 1, "color": "#00604a", "stroke": "#2f7d66", "strokeWidth": 0.8},
      "encoding": {
        "size": {
          "field": "v",
          "type": "quantitative",
          "scale": {"domain": [0, 1], "range": [0, 215]},
          "legend": null
        }
      }
    }
  ],
  "config": {
    "view": {"fill": "#e0e0e0", "stroke": "#bdbdbd", "strokeWidth": 1.5},
    "axis": {
      "labelFont": "Liberation Sans",
      "labelFontSize": 22,
      "labelColor": "#000000",
      "labelPadding": 6,
      "titleFont": "Liberation Sans",
      "titleFontSize": 37,
      "titleFontWeight": "bold",
      "titleColor": "#000000",
      "gridColor": "#bdbdbd",
      "gridWidth": 1.5,
      "domainColor": "#bdbdbd",
      "domainWidth": 1.5,
      "tickColor": "#9a9a9a",
      "tickSize": 7
    }
  }
}
